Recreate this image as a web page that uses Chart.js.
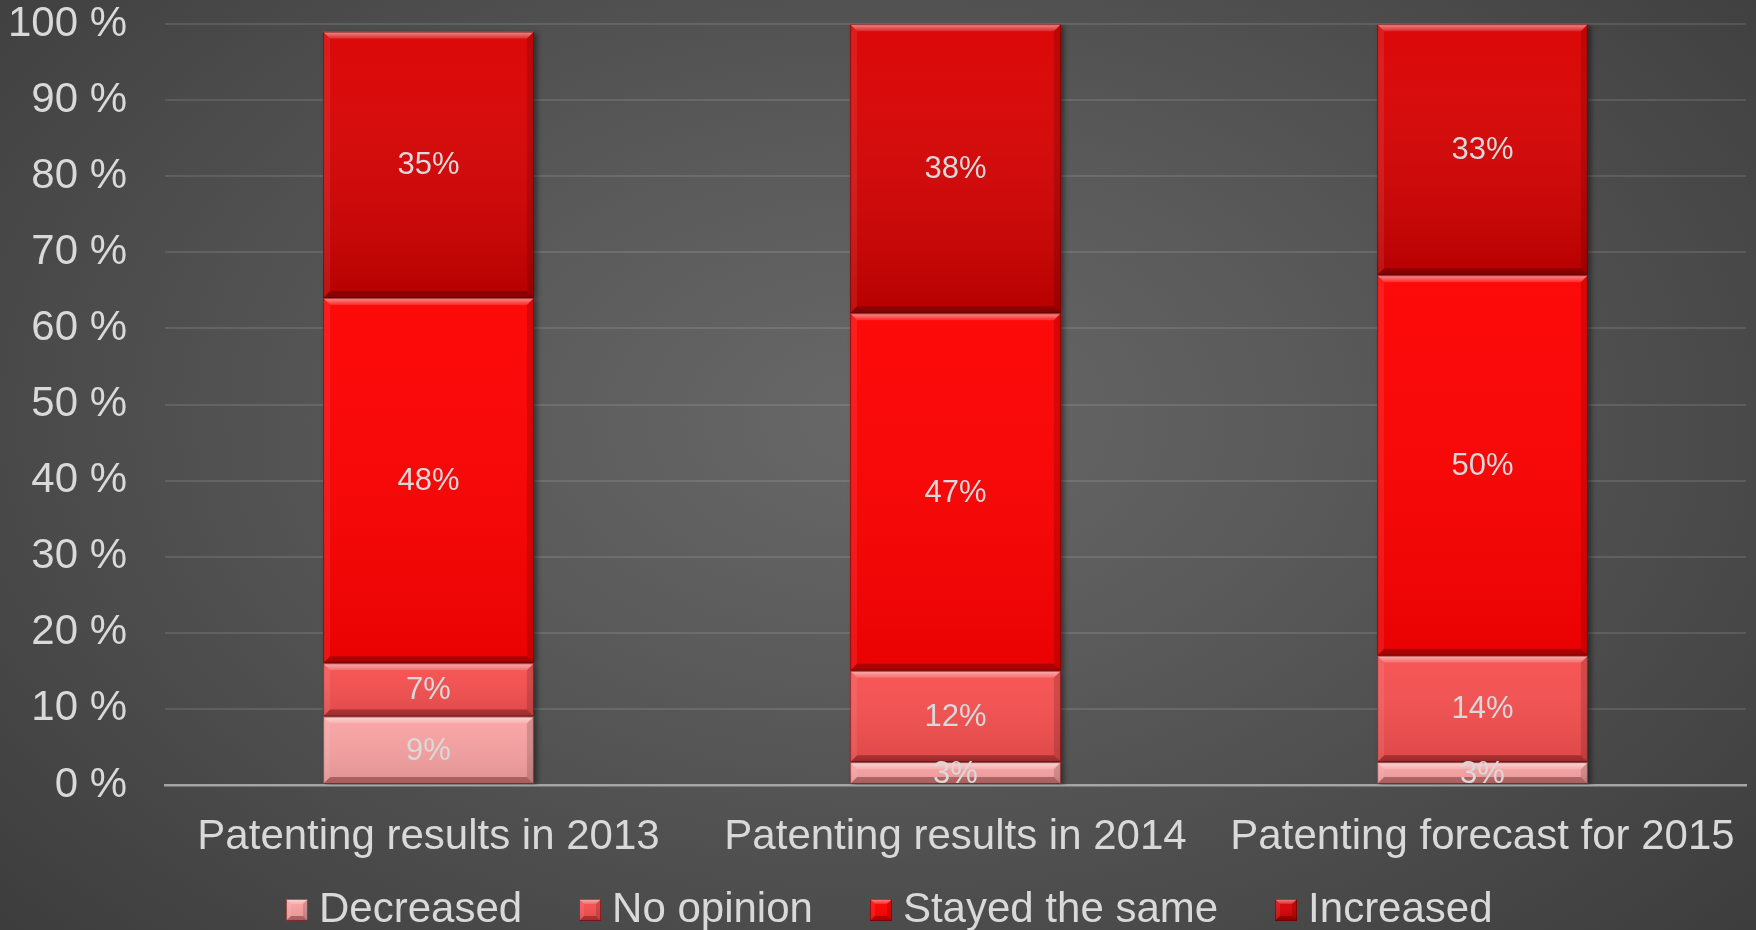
<!DOCTYPE html>
<html>
<head>
<meta charset="utf-8">
<title>Patenting results</title>
<script src="https://cdn.jsdelivr.net/npm/chart.js@4.4.1/dist/chart.umd.min.js"></script>
<style>
  html, body { margin: 0; padding: 0; background: #444; }
  #wrap {
    position: relative;
    width: 1756px;
    height: 930px;
    background: radial-gradient(ellipse 70% 85% at 50% 45%, #686868 0%, #5a5a5a 35%, #3b3b3b 100%);
  }
  canvas { display: block; }
  #legend {
    position: absolute;
    left: 286px;
    top: 887px;
    display: flex;
    align-items: center;
    font: 42px/42px "Liberation Sans", Arial, sans-serif;
    color: #d9d9d9;
    white-space: nowrap;
  }
  #legend .item { display: flex; align-items: center; margin-right: 57px; }
  #legend .item canvas { margin-right: 11px; margin-top: 3px; }
</style>
</head>
<body>
<div id="wrap">
  <canvas id="chart" width="1756" height="930"></canvas>
  <div id="legend"></div>
</div>
<script>
// --- data ---
const categories = ['Patenting results in 2013', 'Patenting results in 2014', 'Patenting forecast for 2015'];
const seriesNames = ['Decreased', 'No opinion', 'Stayed the same', 'Increased'];
const decreased = [9, 3, 3];
const noOpinion = [7, 12, 14];
const stayedSame = [48, 47, 50];
const increased = [35, 38, 33];
const yMax = 100;
const yStep = 10;

// --- look ---
const FONT = '"Liberation Sans", Arial, sans-serif';
const TEXT = '#d9d9d9';
const fills = ['#f8a2a2', '#f65050', '#fd0202', '#da0000'];
const shades = [0.10, 0.10, 0.08, 0.16];

Chart.defaults.font.family = FONT;
Chart.defaults.color = TEXT;

function poly(ctx, pts, style) {
  ctx.beginPath();
  ctx.moveTo(pts[0][0], pts[0][1]);
  for (let i = 1; i < pts.length; i++) ctx.lineTo(pts[i][0], pts[i][1]);
  ctx.closePath();
  ctx.fillStyle = style;
  ctx.fill();
}

// bevel + shading on top of a flat filled rect
function bevelRect(ctx, l, t, r, b, d, shade) {
  const h = b - t;
  const body = ctx.createLinearGradient(0, t, 0, b);
  body.addColorStop(0, 'rgba(255,255,255,0.03)');
  body.addColorStop(1, 'rgba(0,0,0,' + shade + ')');
  ctx.fillStyle = body;
  ctx.fillRect(l, t, r - l, h);

  const top = ctx.createLinearGradient(0, t, 0, t + d);
  top.addColorStop(0, 'rgba(255,255,255,0.55)');
  top.addColorStop(1, 'rgba(255,255,255,0.12)');
  poly(ctx, [[l, t], [r, t], [r - d, t + d], [l + d, t + d]], top);
  poly(ctx, [[l, t], [l + d, t + d], [l + d, b - d], [l, b]], 'rgba(255,255,255,0.08)');
  poly(ctx, [[r, t], [r, b], [r - d, b - d], [r - d, t + d]], 'rgba(0,0,0,0.14)');
  poly(ctx, [[l, b], [r, b], [r - d, b - d], [l + d, b - d]], 'rgba(60,0,0,0.35)');

  ctx.strokeStyle = 'rgba(90,0,0,0.55)';
  ctx.lineWidth = 1;
  ctx.strokeRect(l + 0.5, t + 0.5, r - l - 1, h - 1);
}

// small beveled squares for the legend
function legendBox(color, shade) {
  const c = document.createElement('canvas');
  c.width = 22;
  c.height = 22;
  const g = c.getContext('2d');
  g.fillStyle = color;
  g.fillRect(0, 0, 22, 22);
  bevelRect(g, 0, 0, 22, 22, 5, shade);
  return c;
}

const seriesData = [decreased, noOpinion, stayedSame, increased];
const datasets = seriesData.map((values, i) => ({
  label: seriesNames[i],
  data: values,
  backgroundColor: fills[i],
  borderWidth: 0,
  barPercentage: 0.4,
  categoryPercentage: 1.0
}));

// html legend built from the chart's own legend items
const htmlLegend = {
  id: 'htmlLegend',
  afterUpdate(chart) {
    const box = document.getElementById('legend');
    box.innerHTML = '';
    const items = chart.options.plugins.legend.labels.generateLabels(chart);
    items.forEach((item) => {
      const el = document.createElement('div');
      el.className = 'item';
      el.appendChild(legendBox(fills[item.datasetIndex], shades[item.datasetIndex]));
      const txt = document.createElement('span');
      txt.textContent = item.text;
      el.appendChild(txt);
      box.appendChild(el);
    });
  }
};

const barLook = {
  id: 'barLook',
  beforeDatasetsDraw(chart) {
    const ctx = chart.ctx;
    ctx.save();
    ctx.shadowColor = 'rgba(0,0,0,0.45)';
    ctx.shadowBlur = 5;
    ctx.shadowOffsetX = 3;
    ctx.shadowOffsetY = 1;
  },
  afterDatasetsDraw(chart) {
    const ctx = chart.ctx;
    ctx.restore();

    // bevels
    chart.data.datasets.forEach((ds, di) => {
      const meta = chart.getDatasetMeta(di);
      meta.data.forEach((bar) => {
        const p = bar.getProps(['x', 'y', 'base', 'width'], true);
        const l = p.x - p.width / 2, r = p.x + p.width / 2;
        const t = Math.min(p.y, p.base), b = Math.max(p.y, p.base);
        if (b - t <= 0) return;
        ctx.save();
        bevelRect(ctx, l, t, r, b, Math.min(7, (b - t) / 2), shades[di]);
        ctx.restore();
      });
    });

    // value labels
    ctx.save();
    ctx.font = '31px ' + FONT;
    ctx.fillStyle = TEXT;
    ctx.textAlign = 'center';
    ctx.textBaseline = 'middle';
    chart.data.datasets.forEach((ds, di) => {
      const meta = chart.getDatasetMeta(di);
      meta.data.forEach((bar, i) => {
        const p = bar.getProps(['x', 'y', 'base'], true);
        ctx.fillText(ds.data[i] + '%', p.x, (p.y + p.base) / 2 + 1);
      });
    });
    ctx.restore();
  }
};

new Chart(document.getElementById('chart'), {
  type: 'bar',
  data: { labels: categories, datasets: datasets },
  options: {
    responsive: false,
    animation: false,
    layout: { padding: { left: 10, right: 10, top: 24, bottom: 0 } },
    plugins: {
      legend: { display: false },
      tooltip: { enabled: false }
    },
    scales: {
      x: {
        stacked: true,
        z: 1,
        grid: { display: false, drawTicks: false },
        border: { display: true, color: '#a5a5a5', width: 2.5 },
        ticks: { color: TEXT, font: { size: 42 }, padding: 27, maxRotation: 0 },
        afterFit(scale) {
          scale.height = 145;
          scale.paddingLeft = 0;
          scale.paddingRight = 0;
        }
      },
      y: {
        stacked: true,
        min: 0,
        max: yMax,
        border: { display: false },
        grid: {
          color: 'rgba(255,255,255,0.11)',
          lineWidth: 2,
          drawTicks: true,
          tickLength: 38,
          tickColor: 'rgba(0,0,0,0)'
        },
        ticks: {
          stepSize: yStep,
          color: TEXT,
          font: { size: 42, lineHeight: 1.15 },
          padding: 0,
          callback: (v) => v + ' %'
        },
        afterFit(scale) { scale.width = 155; }
      }
    }
  },
  plugins: [barLook, htmlLegend]
});
</script>
</body>
</html>
